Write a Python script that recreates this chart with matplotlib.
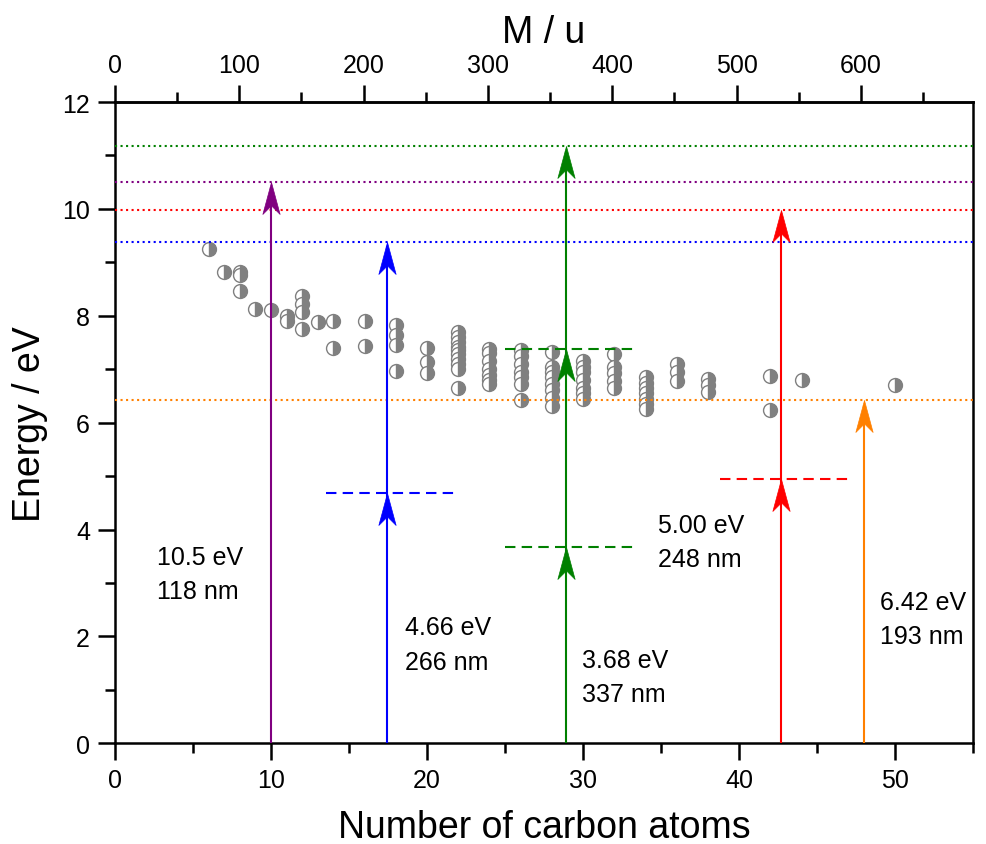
import numpy as np
import matplotlib.pyplot as plt
from matplotlib.path import Path
from matplotlib.ticker import MultipleLocator, FixedLocator

plt.rcParams['font.family'] = ['Liberation Sans', 'DejaVu Sans']

# carbon number / ionisation energy (eV) of the measured species
nC = [6, 7, 8, 8, 8, 9, 10, 11, 11, 12, 12, 12, 12, 13, 14, 14, 16, 16,
      18, 18, 18, 18, 20, 20, 20,
      22, 22, 22, 22, 22, 22, 22, 22, 22, 22,
      24, 24, 24, 24, 24, 24, 24,
      26, 26, 26, 26, 26, 26, 26,
      28, 28, 28, 28, 28, 28, 28, 28,
      30, 30, 30, 30, 30, 30, 30,
      32, 32, 32, 32, 32,
      34, 34, 34, 34, 34, 34, 34,
      36, 36, 36, 38, 38, 38, 42, 42, 44, 50]
IE = [9.25, 8.82, 8.82, 8.77, 8.47, 8.13, 8.11, 8.00, 7.90, 8.37, 8.22, 8.07, 7.76, 7.89, 7.90, 7.40, 7.90, 7.44,
      7.83, 7.64, 7.46, 6.97, 7.40, 7.14, 6.93,
      7.70, 7.60, 7.50, 7.42, 7.35, 7.28, 7.20, 7.10, 7.00, 6.64,
      7.38, 7.30, 7.15, 7.00, 6.90, 6.80, 6.73,
      7.35, 7.25, 7.10, 6.95, 6.85, 6.72, 6.43,
      7.33, 7.05, 6.95, 6.85, 6.72, 6.62, 6.47, 6.32,
      7.15, 7.05, 6.95, 6.80, 6.65, 6.55, 6.45,
      7.28, 7.05, 6.92, 6.78, 6.64,
      6.85, 6.75, 6.65, 6.55, 6.45, 6.35, 6.25,
      7.10, 6.95, 6.77, 6.82, 6.70, 6.58, 6.88, 6.24, 6.80, 6.71]

# mass per carbon atom used for the top axis
u_per_C = 12.55
mass_ticks = [0, 100, 200, 300, 400, 500, 600]
mass_minor = [50, 150, 250, 350, 450, 550, 650]

# photon schemes: colour, x position, energy levels reached
colors = ['#800080', '#0000ff', '#008000', '#ff0000', '#ff8000']
arrow_x = [10, 17.45, 28.9, 42.7, 48.0]
levels = [[0, 10.5], [0, 4.68, 9.38], [0, 3.68, 7.38, 11.17], [0, 4.94, 9.98], [0, 6.42]]
dash_span = [None, (13.5, 21.9), (25.0, 33.4), (38.8, 47.1), None]
labels = ['10.5 eV\n118 nm', '4.66 eV\n266 nm', '3.68 eV\n337 nm', '5.00 eV\n248 nm', '6.42 eV\n193 nm']
label_xy = [(2.7, 3.17), (18.6, 1.85), (29.9, 1.24), (34.8, 3.77), (49.0, 2.33)]

# arrow head with swept back notch, tip at origin
head = Path([(0, 0), (-0.27, -1), (0, -0.73), (0.27, -1), (0, 0)],
            [Path.MOVETO, Path.LINETO, Path.LINETO, Path.LINETO, Path.CLOSEPOLY])

fig = plt.figure(figsize=(9.86, 8.45), dpi=100)
ax = fig.add_axes([0.1166, 0.1192, 0.8704, 0.7589])

ax.plot(nC, IE, 'o', ls='none', ms=10, fillstyle='right', mfc='#808080',
        mfcalt='white', mec='#808080', mew=1, zorder=2)

for c, x, lv, span, lab, (tx, ty) in zip(colors, arrow_x, levels, dash_span, labels, label_xy):
    ax.axhline(lv[-1], color=c, ls=':', lw=1.5, zorder=3)
    for y in lv[1:-1]:
        ax.plot(span, [y, y], color=c, ls=(0, (5, 3)), lw=1.5, zorder=3)
    ax.plot([x, x], [lv[0], lv[-1] - 0.1], color=c, lw=1.5, zorder=4)
    ax.plot([x] * (len(lv) - 1), lv[1:], ls='none', marker=head, ms=46,
            color=c, mec=c, mew=0.5, zorder=5)
    ax.text(tx, ty, lab, fontsize=18, va='center', ha='left', linespacing=1.55)

ax.set_xlim(0, 55)
ax.set_ylim(0, 12)
ax.xaxis.set_major_locator(MultipleLocator(10))
ax.xaxis.set_minor_locator(MultipleLocator(5))
ax.yaxis.set_major_locator(MultipleLocator(2))
ax.yaxis.set_minor_locator(MultipleLocator(1))
ax.tick_params(which='major', direction='out', length=12, width=1.8, labelsize=18, pad=6)
ax.tick_params(which='minor', direction='out', length=7, width=1.8)
for s in ax.spines.values():
    s.set_linewidth(1.8)
ax.set_xlabel('Number of carbon atoms', fontsize=27, labelpad=12)
ax.set_ylabel('Energy / eV', fontsize=27, labelpad=10)

top = ax.secondary_xaxis('top', functions=(lambda n: n * u_per_C, lambda m: m / u_per_C))
top.xaxis.set_major_locator(FixedLocator(mass_ticks))
top.xaxis.set_minor_locator(FixedLocator(mass_minor))
top.tick_params(which='major', direction='out', length=12, width=1.8, labelsize=18, pad=6)
top.tick_params(which='minor', direction='out', length=7, width=1.8)
top.spines['top'].set_linewidth(1.8)
top.set_xlabel('M / u', fontsize=27, labelpad=8)

fig.savefig('out.png', dpi=100)
